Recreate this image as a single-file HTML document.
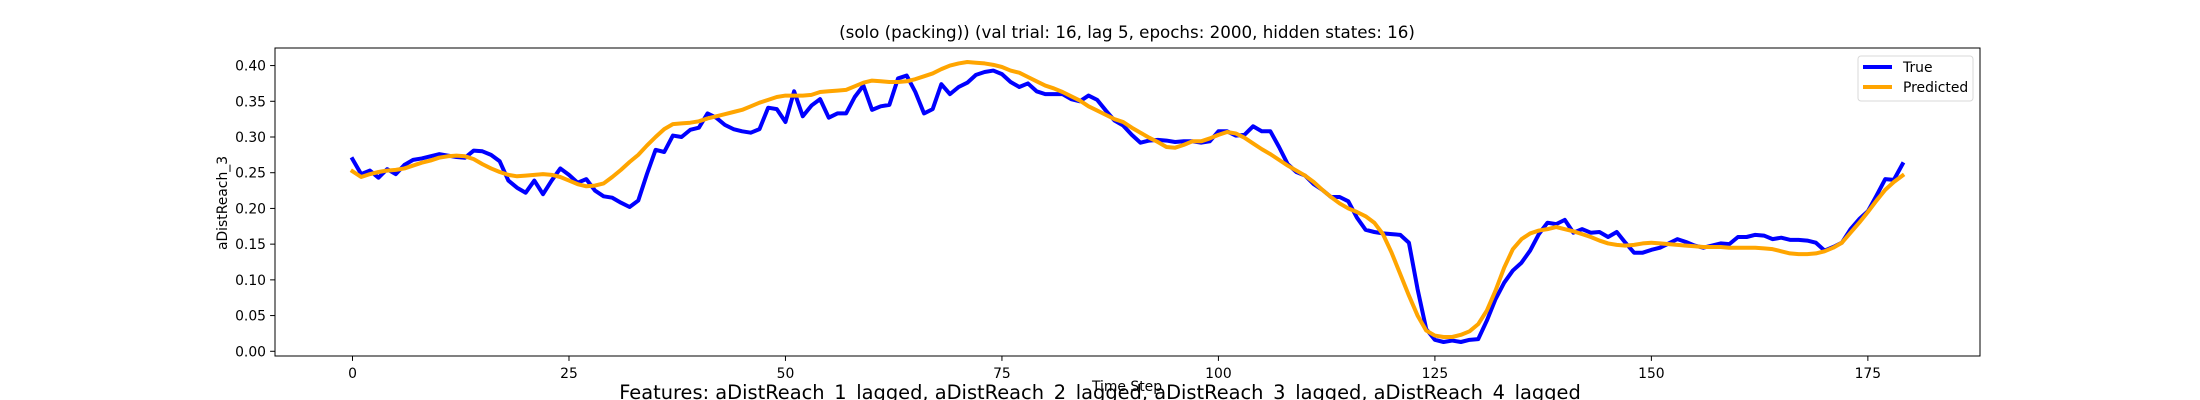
<!DOCTYPE html>
<html><head><meta charset="utf-8"><style>
html,body{margin:0;padding:0;background:#fff;}
svg{display:block;font-family:"DejaVu Sans","Liberation Sans",sans-serif;}
</style></head><body>
<svg id="chart" width="2200" height="400" viewBox="0 0 2200 400" xmlns="http://www.w3.org/2000/svg">
<rect x="0" y="0" width="2200" height="400" fill="#fff"/>
<text x="1127" y="38" font-size="16.7" text-anchor="middle" fill="#000">(solo (packing)) (val trial: 16, lag 5, epochs: 2000, hidden states: 16)</text>
<g id="plot"></g>
<text x="1127" y="391" font-size="13.9" text-anchor="middle" fill="#000">Time Step</text>
<text transform="translate(227,203) rotate(-90)" font-size="13.9" text-anchor="middle" fill="#000">aDistReach_3</text>
<text x="1100" y="399" font-size="19.4" text-anchor="middle" fill="#000">Features: aDistReach_1_lagged, aDistReach_2_lagged, aDistReach_3_lagged, aDistReach_4_lagged</text>
<g>
<rect x="1858" y="56" width="115" height="45" rx="3" fill="#fff" fill-opacity="0.8" stroke="#d9d9d9" stroke-width="1"/>
<line x1="1863" y1="67" x2="1892" y2="67" stroke="#0000ff" stroke-width="4"/>
<text x="1903" y="72" font-size="13.9" fill="#000">True</text>
<line x1="1863" y1="87" x2="1892" y2="87" stroke="#ffa500" stroke-width="4"/>
<text x="1903" y="92" font-size="13.9" fill="#000">Predicted</text>
</g>
</svg>
<script>
const trueValues = [0.269,0.248,0.253,0.243,0.255,0.248,0.261,0.268,0.270,0.273,0.276,0.274,0.272,0.271,0.281,0.280,0.275,0.266,0.239,0.229,0.222,0.239,0.220,0.239,0.256,0.247,0.236,0.241,0.225,0.217,0.215,0.208,0.202,0.211,0.248,0.282,0.279,0.302,0.300,0.310,0.313,0.333,0.327,0.317,0.311,0.308,0.306,0.311,0.341,0.339,0.321,0.364,0.329,0.344,0.353,0.327,0.333,0.333,0.356,0.372,0.338,0.343,0.345,0.382,0.386,0.363,0.333,0.339,0.374,0.360,0.370,0.376,0.387,0.391,0.393,0.388,0.377,0.370,0.375,0.364,0.360,0.360,0.360,0.353,0.350,0.358,0.352,0.337,0.323,0.316,0.303,0.292,0.295,0.296,0.295,0.293,0.294,0.294,0.292,0.294,0.308,0.308,0.302,0.303,0.315,0.308,0.308,0.286,0.262,0.251,0.246,0.234,0.226,0.216,0.216,0.210,0.187,0.170,0.167,0.165,0.164,0.163,0.152,0.087,0.031,0.016,0.013,0.015,0.013,0.016,0.017,0.043,0.073,0.096,0.113,0.124,0.141,0.164,0.180,0.178,0.184,0.166,0.171,0.166,0.167,0.160,0.167,0.152,0.138,0.138,0.142,0.145,0.151,0.157,0.153,0.148,0.145,0.148,0.151,0.150,0.160,0.160,0.163,0.162,0.157,0.159,0.156,0.156,0.155,0.152,0.141,0.146,0.152,0.171,0.185,0.196,0.218,0.241,0.240,0.262];
const predictedValues = [0.252,0.244,0.248,0.251,0.253,0.254,0.256,0.260,0.264,0.267,0.271,0.273,0.274,0.273,0.269,0.262,0.256,0.251,0.247,0.245,0.246,0.247,0.248,0.247,0.244,0.239,0.234,0.231,0.232,0.235,0.244,0.254,0.265,0.275,0.288,0.300,0.311,0.318,0.319,0.320,0.322,0.326,0.329,0.332,0.335,0.338,0.343,0.348,0.352,0.356,0.358,0.358,0.358,0.359,0.363,0.364,0.365,0.366,0.371,0.376,0.379,0.378,0.377,0.377,0.378,0.381,0.385,0.389,0.395,0.400,0.403,0.405,0.404,0.403,0.401,0.398,0.393,0.390,0.384,0.378,0.372,0.368,0.363,0.357,0.351,0.343,0.337,0.331,0.325,0.321,0.313,0.306,0.299,0.293,0.286,0.285,0.289,0.294,0.294,0.298,0.303,0.307,0.305,0.299,0.291,0.283,0.276,0.268,0.260,0.253,0.246,0.237,0.226,0.216,0.207,0.200,0.195,0.189,0.180,0.164,0.138,0.108,0.078,0.050,0.029,0.022,0.020,0.020,0.023,0.028,0.038,0.057,0.085,0.117,0.143,0.157,0.165,0.169,0.171,0.174,0.171,0.168,0.164,0.160,0.155,0.151,0.149,0.148,0.149,0.151,0.152,0.151,0.150,0.149,0.148,0.147,0.146,0.146,0.146,0.145,0.145,0.145,0.145,0.144,0.143,0.140,0.137,0.136,0.136,0.137,0.140,0.145,0.152,0.166,0.180,0.195,0.211,0.226,0.237,0.246];
const xTickValues = [0,25,50,75,100,125,150,175];
const yTickValues = [0.00,0.05,0.10,0.15,0.20,0.25,0.30,0.35,0.40];
const yTickLabels = ["0.00","0.05","0.10","0.15","0.20","0.25","0.30","0.35","0.40"];

const NS = "http://www.w3.org/2000/svg";
const L = 275, R = 1980, T = 48, B = 356;
const n = trueValues.length;
const xMin = -(n - 1) * 0.05, xMax = (n - 1) * 1.05;
const allV = trueValues.concat(predictedValues);
const vMin = Math.min(...allV), vMax = Math.max(...allV);
const yMin = vMin - (vMax - vMin) * 0.05, yMax = vMax + (vMax - vMin) * 0.05;
function xScale(v){ return L + (v - xMin) / (xMax - xMin) * (R - L); }
function yScale(v){ return B - (v - yMin) / (yMax - yMin) * (B - T); }
const plot = document.getElementById('plot');
function mk(tag, attrs){ const e = document.createElementNS(NS, tag); for (const k in attrs) e.setAttribute(k, attrs[k]); return e; }

yTickValues.forEach((v, i) => {
  const y = yScale(v);
  const t = mk('line', {x1: L - 4.9, x2: L, y1: y, y2: y, stroke: '#000', 'stroke-width': 1});
  
  
  plot.appendChild(t);
  const lb = mk('text', {x: L - 9, y: y + 5, 'font-size': 13.9, 'text-anchor': 'end', fill: '#000'});
  lb.textContent = yTickLabels[i];
  
  
  plot.appendChild(lb);
});
xTickValues.forEach(v => {
  const x = xScale(v);
  const t = mk('line', {x1: x, x2: x, y1: B, y2: B + 4.9, stroke: '#000', 'stroke-width': 1});
  
  
  plot.appendChild(t);
  const lb = mk('text', {x: x, y: B + 22, 'font-size': 13.9, 'text-anchor': 'middle', fill: '#000'});
  lb.textContent = String(v);
  
  
  plot.appendChild(lb);
});

function series(vals, color, name){
  const d = vals.map((v, i) => (i ? 'L' : 'M') + xScale(i).toFixed(2) + ',' + yScale(v).toFixed(2)).join(' ');
  const p = mk('path', {d: d, fill: 'none', stroke: color, 'stroke-width': 4, 'stroke-linejoin': 'round', 'stroke-linecap': 'square'});
  
  
  plot.appendChild(p);
}
series(trueValues, '#0000ff', 'true-series-line');
series(predictedValues, '#ffa500', 'predicted-series-line');

const frame = mk('rect', {x: L, y: T, width: R - L, height: B - T, fill: 'none', stroke: '#000', 'stroke-width': 1});


plot.appendChild(frame);
</script>
</body></html>
